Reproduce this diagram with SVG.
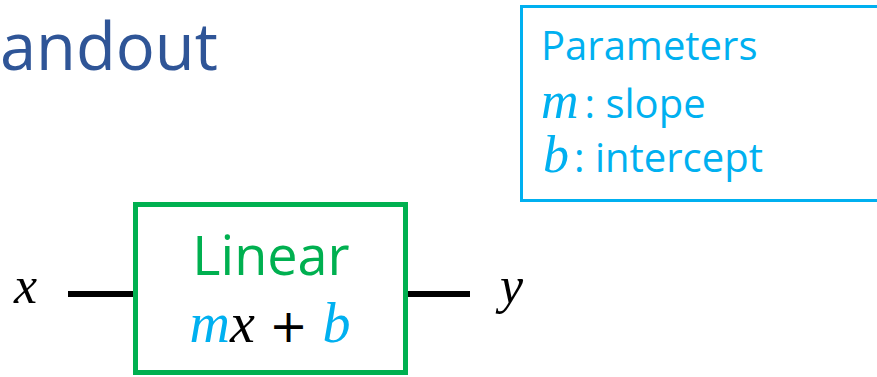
<svg xmlns="http://www.w3.org/2000/svg" width="877" height="377" viewBox="0 0 877 377">
<style>
.sans{font-family:"Open Sans","Noto Sans",sans-serif}
.math{font-family:"Liberation Serif","DejaVu Serif",serif;font-style:italic}
.blue{fill:#00B0F0}
.wire{stroke:#000;stroke-width:6;fill:none}
</style>
<rect width="877" height="377" fill="#fff"/>
<text x="0" y="70" class="sans" font-size="65" fill="#2F5597">andout</text>
<g id="params">
<path d="M 890 6.5 H 521.5 V 200.5 H 890" fill="none" stroke="#00B0F0" stroke-width="3"/>
<text x="541" y="60" class="sans blue" font-size="40">Parameters</text>
<text x="541" y="118" class="blue"><tspan class="math" font-size="52">m</tspan><tspan class="sans" font-size="40" dx="6">: slope</tspan></text>
<text x="543" y="172" class="blue"><tspan class="math" font-size="52">b</tspan><tspan class="sans" font-size="40" dx="5">: intercept</tspan></text>
</g>
<g id="connectors">
<line class="wire" x1="68" y1="294" x2="134" y2="294"/>
<line class="wire" x1="407" y1="294" x2="470" y2="294"/>
</g>
<g id="x-label"><text x="14" y="303" class="math" font-size="52">x</text></g>
<g id="linear">
<rect x="135.5" y="204.5" width="270" height="168" fill="#fff" stroke="#00B050" stroke-width="5"/>
<text x="271" y="275" class="sans" font-size="54" fill="#00B050" text-anchor="middle">Linear</text>
<text x="270" y="342" font-size="56" text-anchor="middle"><tspan class="math blue">m</tspan><tspan class="math">x</tspan><tspan font-family="DejaVu Sans,sans-serif" font-size="46"> + </tspan><tspan class="math blue">b</tspan></text>
</g>
<g id="y-label"><text x="500" y="303" class="math" font-size="52">y</text></g>
</svg>
